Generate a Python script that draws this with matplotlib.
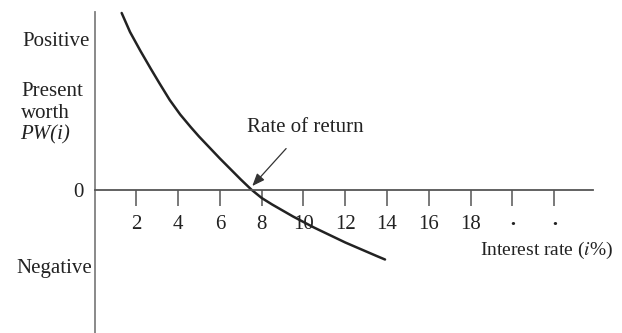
import matplotlib
matplotlib.use("Agg")
import matplotlib.pyplot as plt

plt.rcParams['font.family'] = ['Liberation Serif', 'DejaVu Serif']
plt.rcParams['mathtext.fontset'] = 'stix'

# present worth curve (interest rate %, PW in arbitrary units)
rate = [1.3, 1.7, 2.2, 2.7, 3.1, 3.6, 4.1, 4.6, 5.0, 5.5, 6.0, 6.5, 7.0, 7.5,
        8.0, 8.5, 9.0, 9.5, 10.0, 10.5, 11.0, 11.5, 12.0, 12.5, 13.0, 13.5, 13.9]
pw = [177, 158, 139, 121, 107, 90, 75.5, 63, 53.5, 42.5, 31.5, 21, 10.5, 0.5,
      -8, -14.5, -20.5, -26.5, -32, -37.5, -42.5, -47.5, -52.5, -57, -61.5, -66, -69.5]

tick_pos = [2, 4, 6, 8, 10, 12, 14, 16, 18, 20, 22]
tick_labels = ['2', '4', '6', '8', '10', '12', '14', '16', '18', '·', '·']

fig = plt.figure(figsize=(6.22, 3.33), dpi=100)
ax = fig.add_axes([0, 0, 1, 1])

# axes limits chosen so one data unit in y is one pixel
ax.set_xlim(-94.5 / 20.9, (622 - 94.5) / 20.9)
ax.set_ylim(-143, 190)

ax.plot(rate, pw, color='#222222', lw=1.8, solid_capstyle='round', solid_joinstyle='round')

# axes as crossing lines
for s in ['top', 'right']:
    ax.spines[s].set_visible(False)
ax.spines['left'].set_position(('data', 0))
ax.spines['bottom'].set_position(('data', 0))
ax.spines['left'].set_bounds(-143, 178)
ax.spines['bottom'].set_bounds(0, (593 - 94.5) / 20.9)
ax.spines['left'].set_color('#808080')
ax.spines['bottom'].set_color('#555555')
ax.spines['left'].set_linewidth(1.3)
ax.spines['bottom'].set_linewidth(1.3)

ax.set_xticks(tick_pos)
ax.set_xticklabels(tick_labels)
ax.tick_params(axis='x', direction='out', length=11.5, width=1.1, color='#555555',
               pad=6.5, labelsize=15, labelcolor='#222222')
for lab in ax.get_xticklabels()[-2:]:
    lab.set_fontweight('bold')
ax.set_yticks([0])
ax.set_yticklabels(['0'])
ax.tick_params(axis='y', length=0, pad=8, labelsize=15, labelcolor='#222222')

txt = dict(color='#222222', va='center')
ax.text(-0.22, 148, 'Positive', ha='right', fontsize=15, **txt)
ax.text(-3.5, 99, 'Present', ha='left', fontsize=15, **txt)
ax.text(-3.5, 76, 'worth', ha='left', fontsize=15, **txt)
ax.text(-3.55, 55, 'PW(i)', ha='left', style='italic', fontsize=15, **txt)
ax.text(-0.12, -78, 'Negative', ha='right', fontsize=15, **txt)
ax.text(18.45, -60, r'Interest rate ($\mathit{i}$%)', ha='left', fontsize=14, **txt)

ax.annotate('Rate of return', xy=(7.55, 4), xytext=(10.1, 63),
            ha='center', va='center', fontsize=15, color='#222222',
            arrowprops=dict(arrowstyle='-|>,head_length=0.5,head_width=0.2',
                            color='#333333', lw=0.9, shrinkA=9, shrinkB=0))

fig.savefig('out.png', dpi=100)
